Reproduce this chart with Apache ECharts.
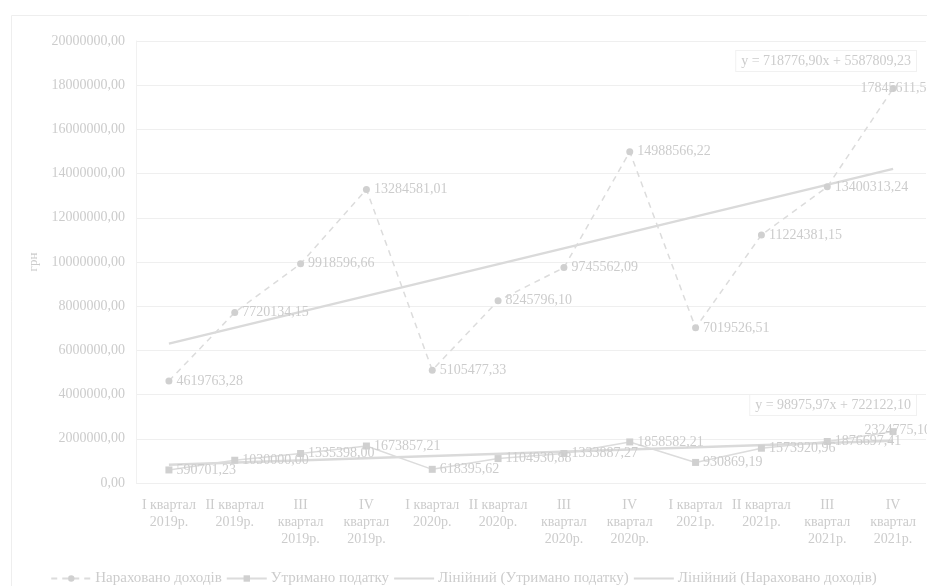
<!DOCTYPE html>
<html><head><meta charset="utf-8">
<script src="https://cdn.jsdelivr.net/npm/echarts@6/dist/echarts.min.js"></script>
<style>html,body{margin:0;padding:0;background:#fff}#c{width:927px;height:586px;filter:blur(0.6px)}</style>
</head><body><div id="c"></div>
<script>
const categories = ["I квартал\n2019р.","II квартал\n2019р.","III\nквартал\n2019р.","IV\nквартал\n2019р.","I квартал\n2020р.","II квартал\n2020р.","III\nквартал\n2020р.","IV\nквартал\n2020р.","I квартал\n2021р.","II квартал\n2021р.","III\nквартал\n2021р.","IV\nквартал\n2021р."];
const accrued = [4619763.28,7720134.15,9918596.66,13284581.01,5105477.33,8245796.10,9745562.09,14988566.22,7019526.51,11224381.15,13400313.24,17845611.50];
const withheld = [590701.23,1030000.00,1335398.00,1673857.21,618395.62,1104930.88,1333887.27,1858582.21,930869.19,1573920.96,1876697.41,2324775.10];
const trendAccrued = [718776.90, 5587809.23];
const trendWithheld = [98975.97, 722122.10];
const seriesNames = ["Нараховано доходів","Утримано податку","Лінійний (Утримано податку)","Лінійний (Нараховано доходів)"];
const yTicks = {min:0, max:20000000, interval:2000000};

const fmt = v => v.toFixed(2).replace('.', ',');
const trendPts = t => [[0, t[0]*1 + t[1]], [categories.length-1, t[0]*categories.length + t[1]]];
const eq = t => 'y = ' + fmt(t[0]) + 'x + ' + fmt(t[1]);

const TXT = '#cccccc', FONT = 'Liberation Serif';
const chart = echarts.init(document.getElementById('c'));
chart.setOption({
  animation:false,
  backgroundColor:'#fff',
  textStyle:{fontFamily:FONT},
  grid:{left:136, right:1, top:41, bottom:103, containLabel:false},
  xAxis:{type:'category', data:categories, boundaryGap:true,
    axisLine:{show:false}, axisTick:{show:false},
    axisLabel:{interval:0, color:TXT, fontFamily:FONT, fontSize:14, lineHeight:17, margin:14}},
  yAxis:{type:'value', min:yTicks.min, max:yTicks.max, interval:yTicks.interval,
    name:'грн', nameLocation:'middle', nameGap:96, nameRotate:90,
    nameTextStyle:{color:TXT, fontFamily:FONT, fontSize:13},
    axisLine:{show:true, lineStyle:{color:'#f1f1f1'}},
    splitLine:{lineStyle:{color:'#efefef'}},
    axisLabel:{color:TXT, fontFamily:FONT, fontSize:14, margin:11, formatter:v=>fmt(v)}},
  legend:{top:566, left:'center', itemGap:4, itemWidth:40, itemHeight:8,
    textStyle:{color:TXT, fontFamily:FONT, fontSize:15, padding:[0,0,0,-1]},
    data:[
      {name:seriesNames[0]},
      {name:seriesNames[1]},
      {name:seriesNames[2], itemStyle:{opacity:0}},
      {name:seriesNames[3], itemStyle:{opacity:0}}
    ]},
  series:[
    {name:seriesNames[0], type:'line', data:accrued, symbol:'circle', symbolSize:7,
     itemStyle:{color:'#d0d0d0'}, lineStyle:{color:'#dcdcdc', width:1.5, type:[6,5]},
     label:{show:true, position:'right', distance:4, color:TXT, fontFamily:FONT, fontSize:14, formatter:p=>fmt(p.value)},
     labelLayout:p=> p.dataIndex===accrued.length-1 ? {dx:-40} : {}},
    {name:seriesNames[1], type:'line', data:withheld, symbol:'rect', symbolSize:7,
     itemStyle:{color:'#d0d0d0'}, lineStyle:{color:'#dcdcdc', width:1.5},
     label:{show:true, position:'right', distance:4, color:TXT, fontFamily:FONT, fontSize:14, formatter:p=>fmt(p.value)},
     labelLayout:p=> p.dataIndex===withheld.length-1 ? {dx:-36, dy:-1} : {}},
    {name:seriesNames[2], type:'line', data:trendPts(trendWithheld), showSymbol:false, symbol:'none',
     lineStyle:{color:'#dadada', width:2.5}, itemStyle:{color:'#dadada'}, z:1},
    {name:seriesNames[3], type:'line', data:trendPts(trendAccrued), showSymbol:false, symbol:'none',
     lineStyle:{color:'#dadada', width:2.5}, itemStyle:{color:'#dadada'}, z:1}
  ],
  graphic:[
    {type:'rect', left:9, top:13, shape:{width:940, height:600}, style:{fill:'none', stroke:'#eeeeee', lineWidth:1}, silent:true},
    {type:'text', right:10, top:50, style:{text:eq(trendAccrued), fill:TXT, font:'14px "Liberation Serif"',
      backgroundColor:'#fff', borderColor:'#f1f1f1', borderWidth:1, padding:[3,5]}},
    {type:'text', right:10, top:394, style:{text:eq(trendWithheld), fill:TXT, font:'14px "Liberation Serif"',
      backgroundColor:'#fff', borderColor:'#f1f1f1', borderWidth:1, padding:[3,5]}}
  ]
});
</script></body></html>
